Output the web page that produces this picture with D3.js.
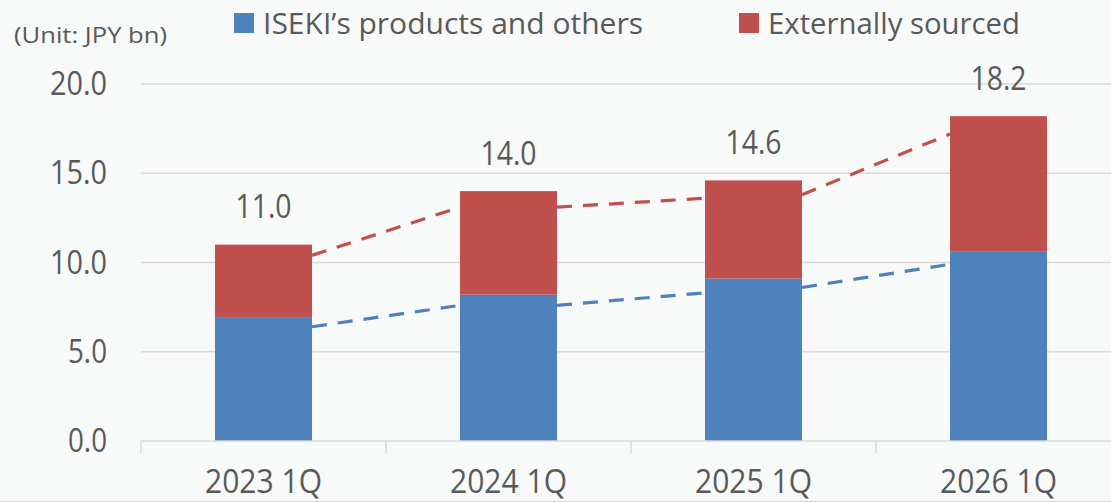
<!DOCTYPE html>
<html><head><meta charset="utf-8">
<script src="https://cdn.jsdelivr.net/npm/d3@7"></script>
<style>
html,body{margin:0;padding:0;background:#f8f9f9;}
svg{display:block;}
text{font-family:"Open Sans","Noto Sans",sans-serif;fill:#595959;}
</style></head>
<body>
<svg id="chart" width="1111" height="502"></svg>
<script>
const categories = ["2023 1Q","2024 1Q","2025 1Q","2026 1Q"];
const iseki = [6.9, 8.2, 9.1, 10.6];
const external = [4.1, 5.8, 5.5, 7.6];
const totals = [11.0, 14.0, 14.6, 18.2];
const yTicks = [0, 5, 10, 15, 20];
// dashed connector segments between neighbouring bars: [start value, end value]
const iseki_trend = [[6.4, 7.6], [7.6, 8.3], [8.6, 9.9]];
const external_trend = [[10.4, 13.1], [13.1, 13.6], [13.8, 17.2]];
const seriesNames = ["ISEKI\u2019s products and others", "Externally sourced"];
const colors = ["#4f81bd", "#c0504d"];

const svg = d3.select("#chart");
const x = d3.scaleBand().domain(categories).range([141, 1121]).paddingInner(0.604).paddingOuter(0.302);
const y = d3.scaleLinear().domain([0, 20]).range([441, 84]);

// gridlines
svg.append("g").selectAll("line").data(yTicks.filter(d => d > 0)).join("line")
  .attr("x1", 141).attr("x2", 1111)
  .attr("y1", d => y(d)).attr("y2", d => y(d))
  .attr("stroke", "#d9d9d9").attr("stroke-width", 1.5);

// y axis labels
const yAxis = d3.axisLeft(y).tickValues(yTicks).tickFormat(d3.format(".1f")).tickSize(0).tickPadding(0);
const gy = svg.append("g").attr("transform", "translate(107,0)").call(yAxis);
gy.select(".domain").remove();
const lblLen = d => d >= 10 ? 57 : 39;
gy.selectAll("text").attr("font-size", 32).attr("fill", "#595959").attr("font-family", "Open Sans")
  .attr("dy", 10.6).attr("x", d => -lblLen(d)).attr("text-anchor", "start")
  .attr("textLength", lblLen).attr("lengthAdjust", "spacingAndGlyphs");

// dashed connectors (behind bars)
function drawTrend(data, color) {
  svg.append("g").selectAll("line").data(data).join("line")
    .attr("x1", (d, i) => x(categories[i]) + x.bandwidth())
    .attr("x2", (d, i) => x(categories[i + 1]))
    .attr("y1", d => y(d[0])).attr("y2", d => y(d[1]))
    .attr("stroke", color).attr("stroke-width", 3.2).attr("stroke-dasharray", "15,11");
}
drawTrend(iseki_trend, colors[0]);
drawTrend(external_trend, colors[1]);

// bars
const stacked = categories.map((c, i) => ({c, a: iseki[i], b: external[i]}));
svg.append("g").selectAll("rect").data(stacked).join("rect")
  .attr("x", d => x(d.c)).attr("width", x.bandwidth())
  .attr("y", d => y(d.a)).attr("height", d => y(0) - y(d.a)).attr("fill", colors[0]);
svg.append("g").selectAll("rect").data(stacked).join("rect")
  .attr("x", d => x(d.c)).attr("width", x.bandwidth())
  .attr("y", d => y(d.a + d.b)).attr("height", d => y(d.a) - y(d.a + d.b)).attr("fill", colors[1]);

// x axis
const xAxis = d3.axisBottom(x).tickSize(0).tickPadding(0);
const gx = svg.append("g").attr("transform", "translate(0,441)").call(xAxis);
gx.select(".domain").remove();
gx.selectAll("text").attr("font-size", 32).attr("fill", "#595959").attr("font-family", "Open Sans")
  .attr("y", 52).attr("dy", 0)
  .attr("textLength", 117).attr("lengthAdjust", "spacingAndGlyphs");
svg.append("line").attr("x1", 141).attr("x2", 1111).attr("y1", 441).attr("y2", 441).attr("stroke", "#d9d9d9").attr("stroke-width", 1.5);
const bounds = [141].concat(categories.slice(1).map(c => x(c) - x.step() * x.paddingInner() / 2));
svg.append("g").selectAll("line").data(bounds).join("line")
  .attr("x1", d => d).attr("x2", d => d).attr("y1", 441).attr("y2", 453)
  .attr("stroke", "#d9d9d9").attr("stroke-width", 1.5);
// bottom frame line
svg.append("line").attr("x1", 0).attr("x2", 1111).attr("y1", 501.5).attr("y2", 501.5).attr("stroke", "#d4d4d4").attr("stroke-width", 1);

// totals
svg.append("g").selectAll("text").data(categories).join("text")
  .attr("x", d => x(d) + x.bandwidth() / 2)
  .attr("y", (d, i) => y(totals[i]) - 26.5)
  .attr("text-anchor", "middle").attr("font-size", 32)
  .attr("textLength", 56).attr("lengthAdjust", "spacingAndGlyphs")
  .text((d, i) => d3.format(".1f")(totals[i]));

// unit
svg.append("text").attr("x", 14).attr("y", 43).attr("font-size", 22).attr("fill", "#111")
  .attr("textLength", 153).attr("lengthAdjust", "spacingAndGlyphs").text("(Unit: JPY bn)");

// legend
const legX = [234, 739];
const legLen = [380, 252];
seriesNames.forEach((n, i) => {
  svg.append("rect").attr("x", legX[i]).attr("y", 13).attr("width", 20).attr("height", 20).attr("fill", colors[i]);
  svg.append("text").attr("x", legX[i] + 29).attr("y", 33.5).attr("font-size", 30)
    .attr("textLength", legLen[i]).attr("lengthAdjust", "spacingAndGlyphs").text(n);
});
</script>
</body></html>
